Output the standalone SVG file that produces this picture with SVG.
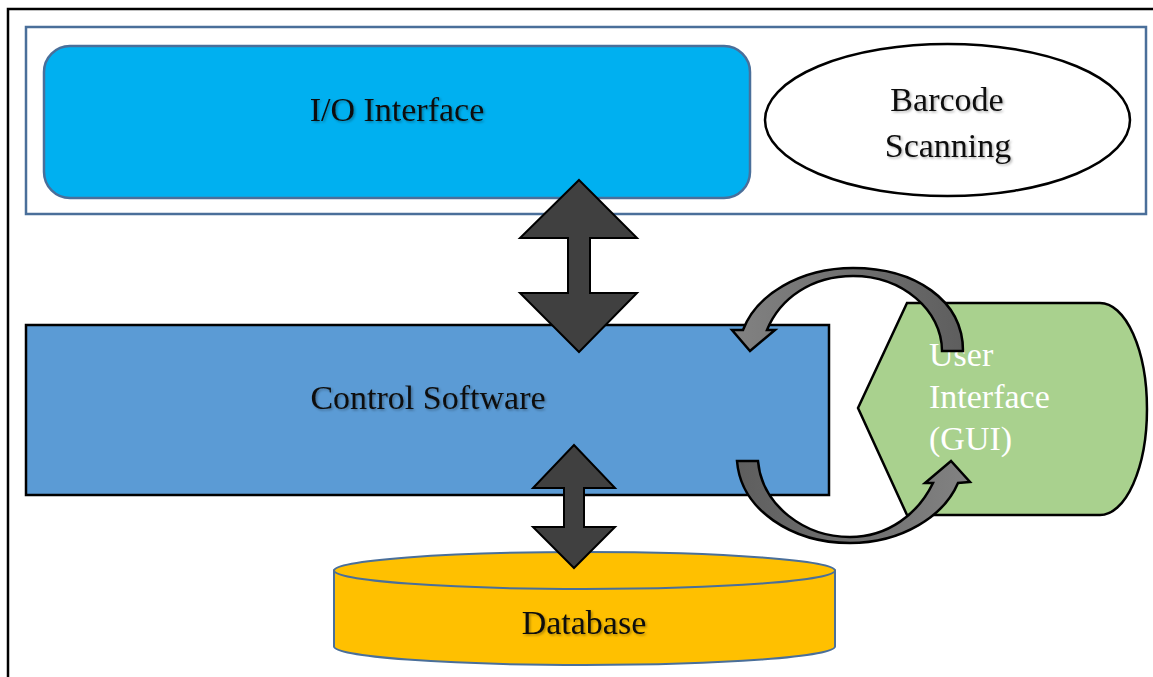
<svg xmlns="http://www.w3.org/2000/svg" width="1153" height="677" viewBox="0 0 1153 677">
  <style>
    .lbl { font-family: "Liberation Serif", "Times New Roman", serif; font-size: 34px; fill: #111; filter: url(#soft); }
    .lbl-c { text-anchor: middle; }
    .lbl-w { font-family: "Liberation Serif", "Times New Roman", serif; font-size: 34px; fill: #ffffff; }
    .frame-blue { fill: none; stroke: #4a6f9a; stroke-width: 2.5; }
    .dbl { fill: #404040; stroke: #000; stroke-width: 2; stroke-linejoin: miter; }
    .curl { stroke: #000; stroke-width: 2.5; stroke-linejoin: miter; }
  </style>
  <defs>
    <filter id="soft" x="-10%" y="-20%" width="120%" height="150%">
      <feDropShadow dx="1.5" dy="1.5" stdDeviation="1" flood-color="#000" flood-opacity="0.3"/>
    </filter>
    <linearGradient id="curlTop" x1="1" y1="0" x2="0" y2="0">
      <stop offset="0" stop-color="#5e5e5e"/>
      <stop offset="1" stop-color="#828282"/>
    </linearGradient>
    <linearGradient id="curlBottom" x1="0" y1="0" x2="1" y2="0">
      <stop offset="0" stop-color="#5e5e5e"/>
      <stop offset="1" stop-color="#828282"/>
    </linearGradient>
  </defs>

  <!-- page frame -->
  <rect x="8" y="9" width="1170" height="700" fill="#ffffff" stroke="#000" stroke-width="2.5"/>

  <!-- input/output band -->
  <g id="io-band">
    <rect x="26" y="27" width="1120" height="187" class="frame-blue"/>
  </g>

  <g id="io-interface">
    <rect x="44" y="46" width="706" height="152" rx="26" ry="26" fill="#00b0f0" stroke="#4a6f9a" stroke-width="2.5"/>
    <text x="397" y="121" class="lbl lbl-c">I/O Interface</text>
  </g>

  <g id="barcode-scanning">
    <ellipse cx="947.5" cy="120" rx="182.5" ry="76" fill="#ffffff" stroke="#000" stroke-width="2.5"/>
    <text x="947" y="111" class="lbl lbl-c">Barcode</text>
    <text x="948" y="157" class="lbl lbl-c">Scanning</text>
  </g>

  <g id="control-software">
    <rect x="26" y="325" width="803" height="170" fill="#5b9bd5" stroke="#000" stroke-width="2.5"/>
    <text x="428" y="409" class="lbl lbl-c">Control Software</text>
  </g>

  <g id="user-interface">
    <path d="M 858 408 L 907 303 L 1100 303 A 47 106 0 0 1 1100 515 L 907 515 Z" fill="#a9d18e" stroke="#000" stroke-width="2.5"/>
    <text class="lbl-w">
      <tspan x="929" y="366">User</tspan>
      <tspan x="929" y="408">Interface</tspan>
      <tspan x="929" y="450">(GUI)</tspan>
    </text>
  </g>

  <g id="database">
    <path d="M 334 570.5 L 334 646.5 A 250.5 18.5 0 0 0 835 646.5 L 835 570.5 Z" fill="#ffc000" stroke="#4a6f9a" stroke-width="2"/>
    <ellipse cx="584.5" cy="570.5" rx="250.5" ry="18.5" fill="#ffc000" stroke="#4a6f9a" stroke-width="2"/>
    <text x="584" y="634" class="lbl lbl-c">Database</text>
  </g>

  <!-- connectors -->
  <g id="connectors">
    <!-- I/O interface <-> control software -->
    <path class="dbl" d="M 579 180 L 637 238 L 590 238 L 590 293 L 637 293 L 579 352 L 520 293 L 568 293 L 568 238 L 520 238 Z"/>
    <!-- control software <-> database -->
    <path class="dbl" d="M 574 445 L 615 488 L 584 488 L 584 527 L 615 527 L 574 568 L 533 527 L 564 527 L 564 488 L 533 488 Z"/>
    <!-- user interface -> control software -->
    <path class="curl" fill="url(#curlTop)" d="M 963 351 C 963 300 915 268 853 268 C 800 268 756 295 743 330 L 732 330 L 750 351 L 775 330 L 767 330 C 780 298 812 276 853 276 C 902 276 942 310 942 351 Z"/>
    <!-- control software -> user interface -->
    <path class="curl" fill="url(#curlBottom)" d="M 737 461 C 741 510 792 543 850 543 C 902 543 944 516 958 483 L 970 482 L 951 461 L 925 483 L 933 483 C 918 514 888 537 850 537 C 805 537 762 506 758 461 Z"/>
  </g>
</svg>
